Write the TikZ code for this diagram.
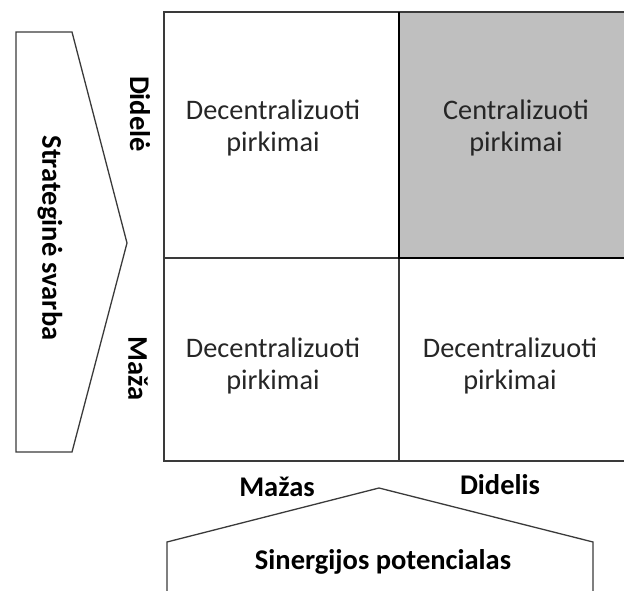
\documentclass[tikz,border=0pt]{standalone}
\usepackage{fontspec}
\setmainfont{Carlito}
\usetikzlibrary{positioning}
\definecolor{CellGray}{HTML}{BFBFBF}
\definecolor{LineGray}{HTML}{3A3A3A}
\definecolor{TextGray}{HTML}{262626}

\begin{document}
\begin{tikzpicture}[x=1pt, y=-1pt,
    cell/.style={align=center, text=TextGray, font=\fontsize{28.3}{32}\selectfont},
    axislabel/.style={font=\fontsize{28.5}{30}\selectfont\bfseries},
    frame/.style={draw=LineGray, line width=1.3pt}]
\useasboundingbox (0,0) rectangle (624,591);
\clip (0,0) rectangle (624,591);

% matrix
\fill[CellGray] (399,12) rectangle (640,258);
\draw[frame] (164,12) rectangle (640,461);
\draw[frame] (399,12) -- (399,461);
\draw[frame] (164,258) -- (640,258);
\draw[line width=2.6pt] (399,12) -- (399,258) -- (640,258);

\node[cell] (topleft) at (273,128) {Decentralizuoti\\pirkimai};
\node[cell] (topright) at (516,128) {Centralizuoti\\pirkimai};
\node[cell] (botleft) at (273,366) {Decentralizuoti\\pirkimai};
\node[cell] (botright) at (510,366) {Decentralizuoti\\pirkimai};

% axis labels
\node[axislabel, rotate=-90] (high) at (140,114) {Didelė};
\node[axislabel, rotate=-90] (low) at (138,369) {Maža};
\node[axislabel] (small) at (277,487) {Mažas};
\node[axislabel] (large) at (500,485) {Didelis};

% arrows
\draw[frame] (16,32) -- (72,32) -- (127,243) -- (72,452) -- (16,452) -- cycle;
\node[axislabel, rotate=-90] (importance) at (50,238) {Strateginė svarba};
\draw[frame] (167,600) -- (167,542) -- (379,488) -- (593,542) -- (593,600);
\node[axislabel] (synergy) at (383,562) {Sinergijos potencialas};
\end{tikzpicture}
\end{document}
